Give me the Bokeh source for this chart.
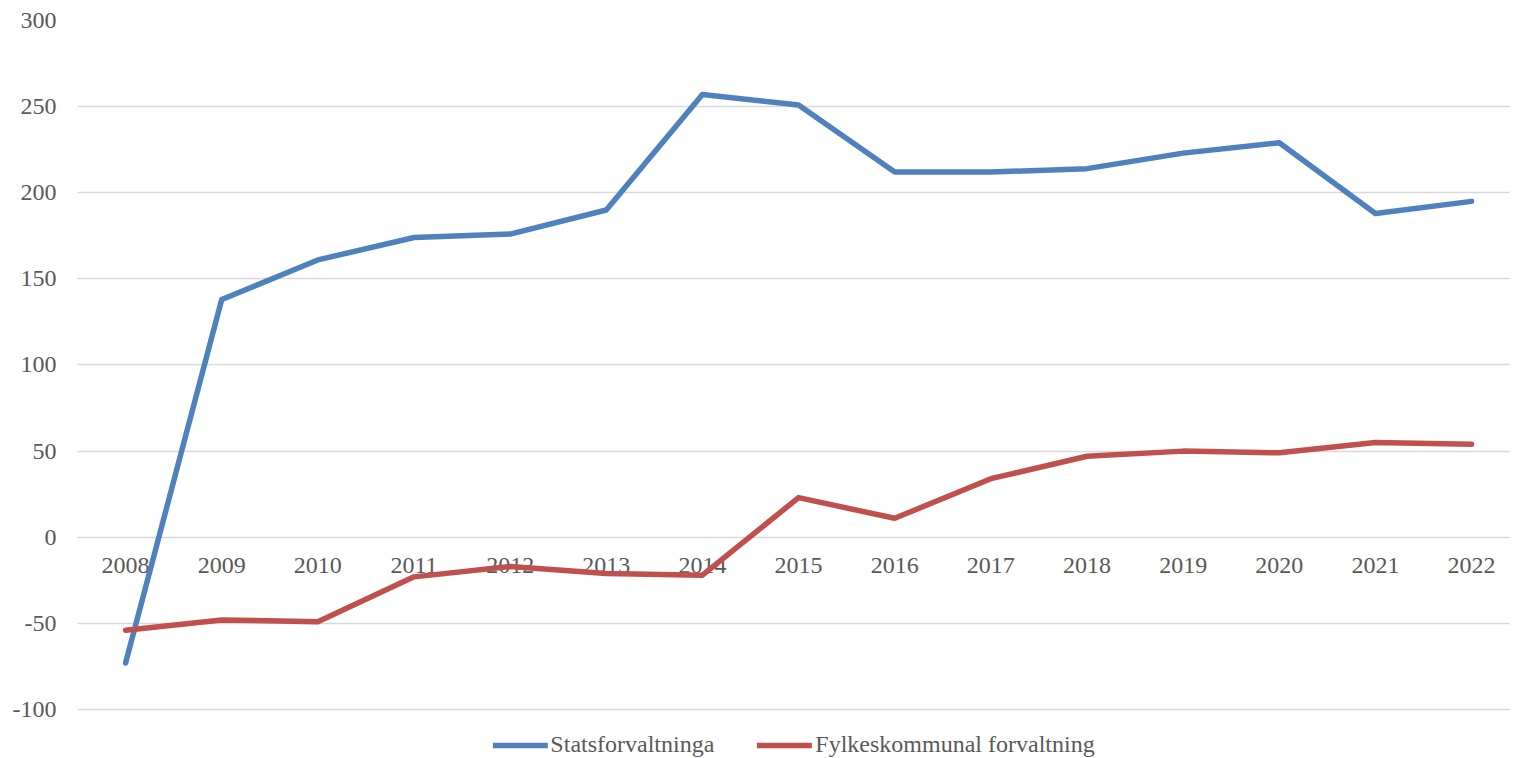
from bokeh.plotting import figure
from bokeh.models import Legend, LegendItem, Range1d, FixedTicker, ColumnDataSource, PrintfTickFormatter
from bokeh.core.properties import value
from bokeh.embed import file_html
from bokeh.resources import INLINE

years = [2008, 2009, 2010, 2011, 2012, 2013, 2014, 2015, 2016, 2017, 2018, 2019, 2020, 2021, 2022]
year_labels = [str(y) for y in years]
stats = [-73, 138, 161, 174, 176, 190, 257, 251, 212, 212, 214, 223, 229, 188, 195]
fylke = [-54, -48, -49, -23, -17, -21, -22, 23, 11, 34, 47, 50, 49, 55, 54]
y_ticks = [-100, -50, 0, 50, 100, 150, 200, 250, 300]
series_names = ["Statsforvaltninga", "Fylkeskommunal forvaltning"]

FONT = "Liberation Serif"
TXT = "#595959"

# frame extends below the -100 line so the legend sits inside it (no gridline there)
p = figure(frame_width=1433, frame_height=738, output_backend="svg", toolbar_location=None,
           x_range=Range1d(2007.5, 2022.405), y_range=Range1d(-128.45, 300),
           min_border_left=77, min_border_right=0, min_border_top=20, min_border_bottom=0)
p.outline_line_color = None
p.xaxis.visible = False
p.xgrid.visible = False
p.yaxis.ticker = FixedTicker(ticks=y_ticks)
p.yaxis.formatter = PrintfTickFormatter(format="%d")
p.yaxis.axis_line_color = None
p.yaxis.major_tick_line_color = None
p.yaxis.minor_tick_line_color = None
p.yaxis.major_label_text_font = FONT
p.yaxis.major_label_text_font_size = "24px"
p.yaxis.major_label_text_color = TXT
p.yaxis.major_label_standoff = 15
p.ygrid.grid_line_color = "#D9D9D9"
p.ygrid.grid_line_width = 1.5

src = ColumnDataSource(dict(x=years, y=[0] * len(years), t=year_labels))
p.text(x="x", y="y", text="t", source=src, text_font=value(FONT), text_font_size="24px",
       text_color=TXT, text_align="center", text_baseline="middle", y_offset=28)

r1 = p.line(years, stats, line_color="#4F81BD", line_width=5.5, line_join="round", line_cap="round")
r2 = p.line(years, fylke, line_color="#C0504D", line_width=5.5, line_join="round", line_cap="round")

legend = Legend(items=[LegendItem(label=series_names[0], renderers=[r1]),
                       LegendItem(label=series_names[1], renderers=[r2])],
                orientation="horizontal", location="bottom_center",
                label_text_font=FONT, label_text_font_size="24px", label_text_color=TXT,
                glyph_width=55, glyph_height=20, label_height=20,
                label_standoff=3, spacing=43, padding=0, margin=0,
                border_line_color=None, background_fill_alpha=0)
p.add_layout(legend, "center")

open("out.html", "w").write(file_html(p, INLINE))
